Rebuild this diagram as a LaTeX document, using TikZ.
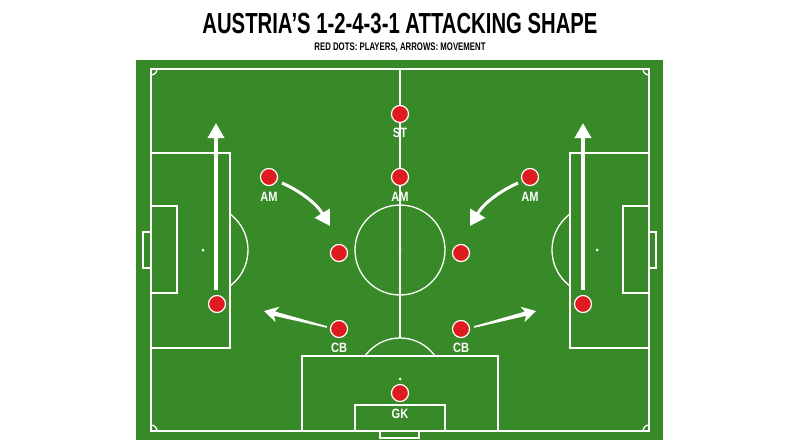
\documentclass[tikz,border=0pt]{standalone}
\usepackage{fontspec}
\setmainfont{Liberation Sans}
\usetikzlibrary{arrows.meta,calc}
\definecolor{pitch}{RGB}{56,138,40}
\definecolor{dot}{RGB}{222,28,32}
\begin{document}
\begin{tikzpicture}[x=1pt,y=-1pt,
  pline/.style={white,line width=1.3pt},
  player/.style={circle,fill=dot,draw=white,line width=1.2pt,minimum size=17pt,inner sep=0pt},
  lbl/.style={text=white,anchor=base,inner sep=0pt,font=\bfseries\fontsize{13.5}{13.5}\selectfont},
  mv/.style={white,line width=4pt,-{Triangle[width=16pt,length=15pt]}},
  cmv/.style={white,line width=3pt,-{Triangle[width=17pt,length=15pt]}},
]
\useasboundingbox (0,0) rectangle (800,447);
\fill[white] (0,0) rectangle (800,447);
% title
\node[anchor=base,inner sep=0pt,font=\bfseries\fontsize{29}{29}\selectfont] (title) at (400,33) {\scalebox{0.7}[1]{AUSTRIA’S 1-2-4-3-1 ATTACKING SHAPE}};
\node[anchor=base,inner sep=0pt,font=\bfseries\fontsize{11}{11}\selectfont] (subtitle) at (400,50) {\scalebox{0.71}[1]{RED DOTS: PLAYERS, ARROWS: MOVEMENT}};
% pitch
\fill[pitch] (136,60) rectangle (663,440);
\draw[pline] (151,69) rectangle (649,431);
\draw[pline] (400,69) -- (400,338);
\draw[pline] (400,250) circle[radius=45pt];
\fill[white] (400,250) circle[radius=1.5pt];
% corner arcs
\begin{scope}
  \clip (151,69) rectangle (649,431);
  \foreach \p in {(151,69),(649,69),(151,431),(649,431)}
    \draw[pline] \p circle[radius=6pt];
\end{scope}
% left end
\draw[pline] (151,153) rectangle (230,348);
\draw[pline] (151,206) rectangle (177,293);
\draw[pline] (151,232) -- (143,232) -- (143,268) -- (151,268);
\fill[white] (203,250) circle[radius=1.5pt];
\begin{scope}
  \clip (230,150) rectangle (260,350);
  \draw[pline] (203,250) circle[radius=45pt];
\end{scope}
% right end
\draw[pline] (570,153) rectangle (649,348);
\draw[pline] (623,206) rectangle (649,293);
\draw[pline] (649,232) -- (656,232) -- (656,268) -- (649,268);
\fill[white] (597,250) circle[radius=1.5pt];
\begin{scope}
  \clip (540,150) rectangle (570,350);
  \draw[pline] (597,250) circle[radius=45pt];
\end{scope}
% bottom end
\draw[pline] (302,356) rectangle (498,431);
\draw[pline] (355,405) rectangle (445,431);
\draw[pline] (380,431) -- (380,438) -- (419,438) -- (419,431);
\fill[white] (400,379) circle[radius=1.5pt];
\begin{scope}
  \clip (340,320) rectangle (460,356);
  \draw[pline] (400,381) circle[radius=43pt];
\end{scope}
% arrows (drawn before players)
\coordinate (lwS) at (216,290);
\coordinate (lwE) at (216,123);
\coordinate (rwS) at (583,290);
\coordinate (rwE) at (583,123);
\draw[mv] (lwS) -- (lwE);
\draw[mv] (rwS) -- (rwE);
\coordinate (lamS) at (282,183);
\coordinate (lamE) at (330,226);
\coordinate (ramS) at (518,183);
\coordinate (ramE) at (470,226);
\draw[cmv] (lamS) .. controls (300,191) and (316,203) .. (lamE);
\draw[cmv] (ramS) .. controls (500,191) and (484,203) .. (ramE);
\coordinate (lcbS) at (327,327);
\coordinate (lcbE) at (264,311);
\coordinate (rcbS) at (474,327);
\coordinate (rcbE) at (536,311);
\foreach \s/\e in {lcbS/lcbE,rcbS/rcbE}{
  \coordinate (h) at ($(\e)!14pt!(\s)$);
  \coordinate (hb) at ($(\e)!11pt!(\s)$);
  \fill[white] ($(\s)!0.8pt!90:(\e)$) -- ($(hb)!2.2pt!90:(\e)$) -- ($(h)!8pt!90:(\e)$) -- (\e)
     -- ($(h)!8pt!-90:(\e)$) -- ($(hb)!2.2pt!-90:(\e)$) -- ($(\s)!0.8pt!-90:(\e)$) -- cycle;
}
% players
\node[player] (st) at (400,114) {};
\node[lbl] (stl) at (400,137) {\scalebox{0.82}[1]{ST}};
\node[player] (amc) at (400,177) {};
\node[lbl] (amcl) at (400,201) {\scalebox{0.82}[1]{AM}};
\node[player] (aml) at (269,177) {};
\node[lbl] (amll) at (269,201) {\scalebox{0.82}[1]{AM}};
\node[player] (amr) at (530,177) {};
\node[lbl] (amrl) at (530,201) {\scalebox{0.82}[1]{AM}};
\node[player] (cml) at (339,253) {};
\node[player] (cmr) at (461,253) {};
\node[player] (wbl) at (217,304) {};
\node[player] (wbr) at (583,304) {};
\node[player] (cbl) at (339,329) {};
\node[lbl] (cbll) at (339,352) {\scalebox{0.82}[1]{CB}};
\node[player] (cbr) at (461,329) {};
\node[lbl] (cbrl) at (461,352) {\scalebox{0.82}[1]{CB}};
\node[player] (gk) at (400,393) {};
\node[lbl] (gkl) at (400,418) {\scalebox{0.82}[1]{GK}};
\end{tikzpicture}
\end{document}
